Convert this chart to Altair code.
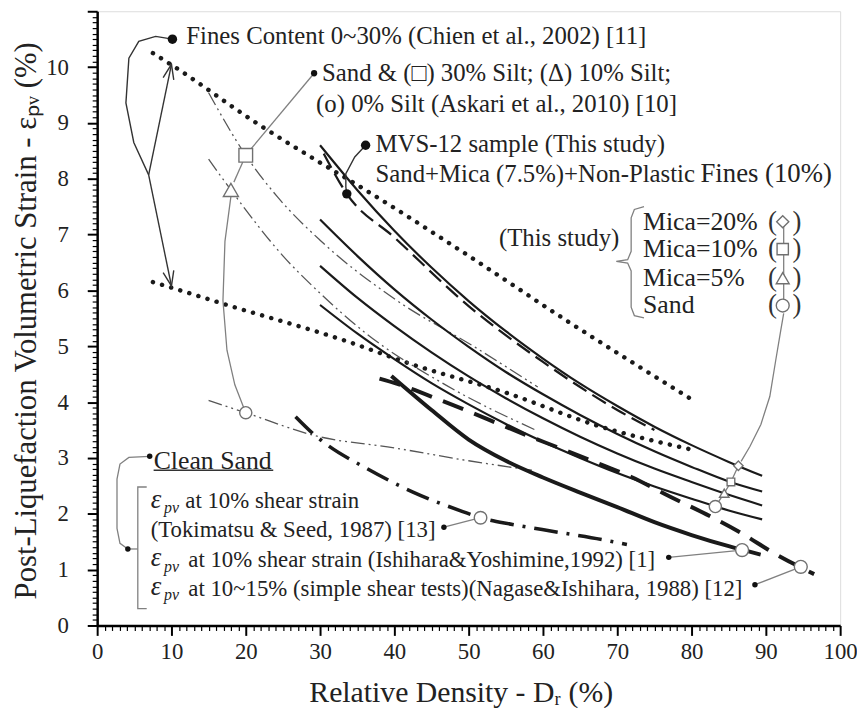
import altair as alt
import pandas as pd

FONT = "Liberation Serif"

# ---------------- data ----------------
# Chien et al. (2002) band, fines content 0~30 %
chien_upper_x = [7.5, 10, 22, 30, 35, 50, 63.3, 80]
chien_upper_y = [10.25, 10.04, 8.95, 8.29, 7.89, 6.62, 5.45, 4.05]
chien_lower_x = [7.5, 10, 17, 33.6, 42.3, 55, 67.3, 80]
chien_lower_y = [6.15, 6.05, 5.76, 5.09, 4.68, 4.17, 3.58, 3.15]

# This study: mica content curves
mica_x = [30, 35, 40, 45, 50, 55, 60, 65, 70, 75, 80, 85, 89.5]
mica20_y = [8.6, 7.8, 7.07, 6.41, 5.81, 5.27, 4.78, 4.33, 3.93, 3.56, 3.23, 2.93, 2.68]
mica10_y = [7.27, 6.62, 6.02, 5.48, 4.99, 4.54, 4.14, 3.77, 3.43, 3.12, 2.84, 2.58, 2.40]
mica5_y = [6.44, 5.87, 5.36, 4.89, 4.46, 4.07, 3.71, 3.38, 3.08, 2.81, 2.57, 2.34, 2.15]
sand_y = [5.74, 5.23, 4.77, 4.34, 3.96, 3.61, 3.29, 3.0, 2.73, 2.49, 2.27, 2.06, 1.90]

# MVS-12 sample (dashed)
mvs_x = [30.5, 33.6, 40, 50, 60, 65, 70, 75]
mvs_y = [8.45, 7.73, 6.95, 5.72, 4.72, 4.27, 3.86, 3.5]

# Askari et al. (2010)
askari30_x = [15, 20, 24.3, 30, 40, 50.9, 59.3]
askari30_y = [9.54, 8.42, 7.67, 6.9, 5.85, 4.98, 4.27]
askari10_x = [15, 18, 25, 30, 36, 47, 59]
askari10_y = [8.35, 7.8, 6.62, 5.95, 5.25, 4.3, 3.5]
askari0_x = [15, 20, 29.6, 40, 50, 58.5]
askari0_y = [4.03, 3.81, 3.39, 3.18, 2.95, 2.78]

# Clean sand references
ishihara_x = [39.6, 45, 50, 55, 60, 65, 70, 75, 80, 85, 89.3]
ishihara_y = [4.47, 3.86, 3.33, 2.95, 2.65, 2.38, 2.12, 1.85, 1.62, 1.42, 1.27]
nagase_x = [38, 40.3, 46.5, 58.5, 62, 66.9, 71.9, 77.2, 82, 86.5, 91.3, 96.5]
nagase_y = [4.42, 4.33, 4.02, 3.37, 3.19, 2.93, 2.66, 2.3, 1.99, 1.67, 1.28, 0.92]
tokimatsu_x = [26.7, 29.2, 30.9, 35.9, 42.5, 49.2, 51.6, 55.9, 61.6, 67.9, 71.3]
tokimatsu_y = [3.74, 3.42, 3.24, 2.84, 2.39, 2.04, 1.93, 1.81, 1.68, 1.54, 1.45]

# open markers on curves  (x, y, shape)
marker_x = [20, 18, 20, 86.3, 85.3, 84.4, 83.2, 92.27, 92.27, 92.27, 92.27, 51.6, 86.8, 94.7]
marker_y = [8.42, 7.8, 3.81, 2.86, 2.57, 2.37, 2.13, 7.23, 6.74, 6.22, 5.73, 1.93, 1.35, 1.05]
marker_shape = ["square", "triangle-up", "circle", "diamond", "square", "triangle-up", "circle",
                "diamond", "square", "triangle-up", "circle", "circle", "circle", "circle"]
marker_size = [190, 230, 150, 90, 60, 90, 150, 150, 130, 170, 170, 160, 170, 170]

# black bullets
bullet_x = [10.13, 29.2, 36.13, 33.6, 7.07, 4.13, 46.67, 76.93, 88.53]
bullet_y = [10.5, 9.89, 8.6, 7.73, 3.03, 1.37, 1.76, 1.22, 0.73]
bullet_size = [90, 40, 90, 90, 30, 30, 30, 30, 30]

# annotation texts
text_items = [
    ("Fines Content 0~30% (Chien et al., 2002) [11]", 12.0, 10.55, 25),
    ("Sand & (\u25a1) 30% Silt; (\u0394) 10% Silt;", 30.27, 9.89, 25),
    ("(o) 0% Silt (Askari et al., 2010) [10]", 29.47, 9.34, 25),
    ("MVS-12 sample (This study)", 37.47, 8.62, 25),
    ("Sand+Mica (7.5%)+Non-Plastic", 37.47, 8.09, 25),
    ("Fines (10%)", 81.2, 8.09, 27),
    ("Mica=20%", 73.47, 7.23, 26),
    ("Mica=10%", 73.47, 6.74, 26),
    ("Mica=5%", 73.47, 6.22, 26),
    ("Sand", 73.47, 5.73, 26),
    ("Clean Sand", 7.6, 2.94, 26),
    ("at 10% shear strain", 11.87, 2.22, 23),
    ("(Tokimatsu & Seed, 1987) [13]", 7.2, 1.70, 23),
    ("at 10% shear strain (Ishihara&Yoshimine,1992) [1]", 12.27, 1.17, 23),
    ("at 10~15% (simple shear tests)(Nagase&Ishihara, 1988) [12]", 12.27, 0.66, 23),
]
this_study = ("(This study)", 70.27, 6.93, 25)
paren_x = [90.9, 94.2]
legend_y = [7.23, 6.74, 6.22, 5.73]
eps_rows_y = [2.22, 1.17, 0.66]

# leader / bracket polylines (gray)
gray_paths = {
    "askari1": [(29.2, 9.89), (20.67, 8.53)],
    "askari2": [(19.6, 8.3), (18.4, 7.94)],
    "askari3": [(18, 7.68), (17.2, 6.88), (16.93, 5.82), (17.47, 4.93), (18.53, 4.31), (19.73, 3.9)],
    "legend_v": [(92.4, 7.23), (92.4, 5.73)],
    "legend_c": [(92.4, 5.59), (92.0, 5.28), (91.33, 4.75), (90.53, 4.1), (89.33, 3.6),
                 (87.87, 3.21), (86.67, 2.94)],
    "legend_chain": [(86.3, 2.86), (85.3, 2.57), (84.4, 2.37), (83.2, 2.13)],
    "toki": [(46.67, 1.76), (51.6, 1.93)],
    "ishi": [(76.93, 1.22), (86.8, 1.35)],
    "naga": [(88.53, 0.73), (94.7, 1.05)],
    "brace": [(73.6, 7.5), (72.3, 7.45), (71.87, 7.3), (71.87, 6.7), (71.4, 6.55), (69.87, 6.52),
              (71.4, 6.49), (71.87, 6.35), (71.87, 5.7), (72.3, 5.55), (73.6, 5.51)],
    "cs_bracket": [(6.67, 2.48), (5.47, 2.48), (5.47, 0.3), (6.67, 0.3)],
    "cs_link": [(4.13, 1.37), (5.47, 1.37)],
    "cs_curve": [(4.13, 1.37), (3.07, 1.47), (2.67, 1.74), (2.67, 2.62), (3.07, 2.89), (4.27, 3.01),
                 (7.07, 3.03)],
}
black_paths = {
    "mvs_leader": [(36.13, 8.6), (34.67, 8.39), (33.47, 8.09), (33.47, 7.85), (33.6, 7.73)],
    "chien_curve": [(10.13, 10.5), (7.87, 10.55), (5.6, 10.46), (4.27, 10.16), (3.87, 9.36),
                    (4.93, 8.65), (6.93, 8.07)],
    "arrow_up": [(6.93, 8.07), (10, 10.05)],
    "head_up": [(8.88, 9.81), (10, 10.05), (10.31, 9.77)],
    "arrow_dn": [(6.93, 8.07), (10, 6.08)],
    "head_dn": [(8.88, 6.32), (10, 6.08), (10.31, 6.36)],
    "underline": [(7.6, 2.78), (23.7, 2.78)],
}

x_minor = list(range(0, 101))
y_minor = [round(i * 0.1, 1) for i in range(0, 111)]

# ---------------- helpers ----------------
xs = alt.Scale(domain=[0, 100], nice=False, zero=False)
ys = alt.Scale(domain=[0, 11], nice=False, zero=False)

YMAJ = "abs(datum.value - round(datum.value)) < 0.01"
xaxis = alt.Axis(
    values=x_minor, title="Relative Density - D\u1d63 (%)",
    labelExpr="datum.value % 10 == 0 ? datum.label : ''",
    tickSize={"condition": {"test": "datum.value % 10 == 0", "value": 10}, "value": 5},
    tickWidth={"condition": {"test": "datum.value % 10 == 0", "value": 2}, "value": 1.2},
    tickColor="black", domainColor="black", domainWidth=2.5, grid=False,
    labelFont=FONT, labelFontSize=23, labelColor="#222222", labelPadding=5,
    labelOverlap=False, labelFlush=False, labelBound=False,
    titleFont=FONT, titleFontSize=30, titleFontWeight="normal", titleColor="#222222",
    titleX=367, titleY=68, titleBaseline="middle", titleAlign="center",
)
yaxis = alt.Axis(
    values=y_minor, title="Post-Liquefaction Volumetric Strain - \u03b5\u209a\u1d65 (%)",
    labelExpr=f"({YMAJ}) && datum.value < 10.5 ? format(round(datum.value), 'd') : ''",
    tickSize={"condition": {"test": YMAJ, "value": 10}, "value": 5},
    tickWidth={"condition": {"test": YMAJ, "value": 2}, "value": 1.2},
    tickColor="black", domainColor="black", domainWidth=2.5, grid=False,
    labelFont=FONT, labelFontSize=23, labelColor="#222222", labelPadding=19,
    labelOverlap=False, labelFlush=False, labelBound=False,
    titleFont=FONT, titleFontSize=31, titleFontWeight="normal", titleColor="#222222",
    titleX=-71, titleY=312, titleAngle=270, titleBaseline="middle", titleAlign="center",
)
X = alt.X("x:Q", scale=xs, axis=xaxis)
Y = alt.Y("y:Q", scale=ys, axis=yaxis)


def series_df(xv, yv):
    return pd.DataFrame({"x": xv, "y": yv, "o": list(range(len(xv)))})


def paths_df(paths):
    rows = []
    for name, pts in paths.items():
        for i, (a, b) in enumerate(pts):
            rows.append({"g": name, "x": a, "y": b, "o": i})
    return pd.DataFrame(rows)


def line(df, width, color="#1a1a1a", dash=None, cap="butt"):
    kw = dict(strokeWidth=width, color=color, strokeCap=cap, interpolate="monotone")
    if dash is not None:
        kw["strokeDash"] = dash
    return alt.Chart(df).mark_line(**kw).encode(x=X, y=Y, order="o:Q")


layers = []
# Chien dotted lines
layers.append(line(series_df(chien_upper_x, chien_upper_y), 4.5, dash=[0.1, 9.5], cap="round"))
layers.append(line(series_df(chien_lower_x, chien_lower_y), 4.5, dash=[0.1, 9.5], cap="round"))
# Askari thin dash-dot-dot gray
for ax_, ay_ in [(askari30_x, askari30_y), (askari10_x, askari10_y), (askari0_x, askari0_y)]:
    layers.append(line(series_df(ax_, ay_), 1.3, color="#555555", dash=[14, 4, 2, 4, 2, 4]))
# this study
for yy in [mica20_y, mica10_y, mica5_y, sand_y]:
    layers.append(line(series_df(mica_x, yy), 2.2))
layers.append(line(series_df(mvs_x, mvs_y), 2.3, dash=[16, 7]))
# clean sand references
layers.append(line(series_df(ishihara_x, ishihara_y), 4.0))
layers.append(line(series_df(nagase_x, nagase_y), 4.0, dash=[22, 12]))
layers.append(line(series_df(tokimatsu_x, tokimatsu_y), 3.6, dash=[24, 9, 3, 9]))

# gray leader lines
gdf = paths_df(gray_paths)
layers.append(alt.Chart(gdf).mark_line(color="#808080", strokeWidth=1.3).encode(
    x=X, y=Y, detail="g:N", order="o:Q"))
bdf = paths_df(black_paths)
layers.append(alt.Chart(bdf).mark_line(color="#333333", strokeWidth=1.4).encode(
    x=X, y=Y, detail="g:N", order="o:Q"))

# open markers
mdf = pd.DataFrame({"x": marker_x, "y": marker_y, "shape": marker_shape, "size": marker_size})
layers.append(alt.Chart(mdf).mark_point(filled=True, fill="white", stroke="#707070", strokeWidth=1.4,
                                        opacity=1).encode(
    x=X, y=Y,
    shape=alt.Shape("shape:N", scale=None),
    size=alt.Size("size:Q", scale=None)))

# bullets
bdots = pd.DataFrame({"x": bullet_x, "y": bullet_y, "size": bullet_size})
layers.append(alt.Chart(bdots).mark_circle(color="#111111", opacity=1).encode(
    x=X, y=Y, size=alt.Size("size:Q", scale=None)))

# texts
tdf = pd.DataFrame([{"t": t, "x": a, "y": b, "fs": f} for (t, a, b, f) in text_items])
layers.append(alt.Chart(tdf).mark_text(align="left", baseline="middle", font=FONT, color="#222222").encode(
    x=X, y=Y, text="t:N", size=alt.Size("fs:Q", scale=None)))
tsdf = pd.DataFrame([{"t": this_study[0], "x": this_study[1], "y": this_study[2]}])
layers.append(alt.Chart(tsdf).mark_text(align="right", baseline="middle", font=FONT, fontSize=25,
                                        color="#222222").encode(x=X, y=Y, text="t:N"))
# parentheses around legend symbols
prow = []
for ly in legend_y:
    prow.append({"t": "(", "x": paren_x[0], "y": ly})
    prow.append({"t": ")", "x": paren_x[1], "y": ly})
layers.append(alt.Chart(pd.DataFrame(prow)).mark_text(align="center", baseline="middle", font=FONT,
                                                       fontSize=27, color="#333333").encode(
    x=X, y=Y, text="t:N"))
# epsilon_pv symbols
erow = [{"t": "\u03b5", "x": 7.2, "y": yy + 0.03} for yy in eps_rows_y]
layers.append(alt.Chart(pd.DataFrame(erow)).mark_text(align="left", baseline="middle", font=FONT,
                                                       fontSize=27, fontStyle="italic",
                                                       color="#222222").encode(x=X, y=Y, text="t:N"))
prow2 = [{"t": "pv", "x": 9.0, "y": yy - 0.12} for yy in eps_rows_y]
layers.append(alt.Chart(pd.DataFrame(prow2)).mark_text(align="left", baseline="middle", font=FONT,
                                                        fontSize=16, fontStyle="italic",
                                                        color="#222222").encode(x=X, y=Y, text="t:N"))

chart = alt.layer(*layers).properties(
    width=750, height=620,
    padding={"left": 90, "top": 0, "right": 17, "bottom": 80},
    autosize="none",
).configure_view(stroke="#111111", strokeWidth=2.5).configure(background="white")

chart.save("out.html", embed_options={"renderer": "svg", "actions": False})
